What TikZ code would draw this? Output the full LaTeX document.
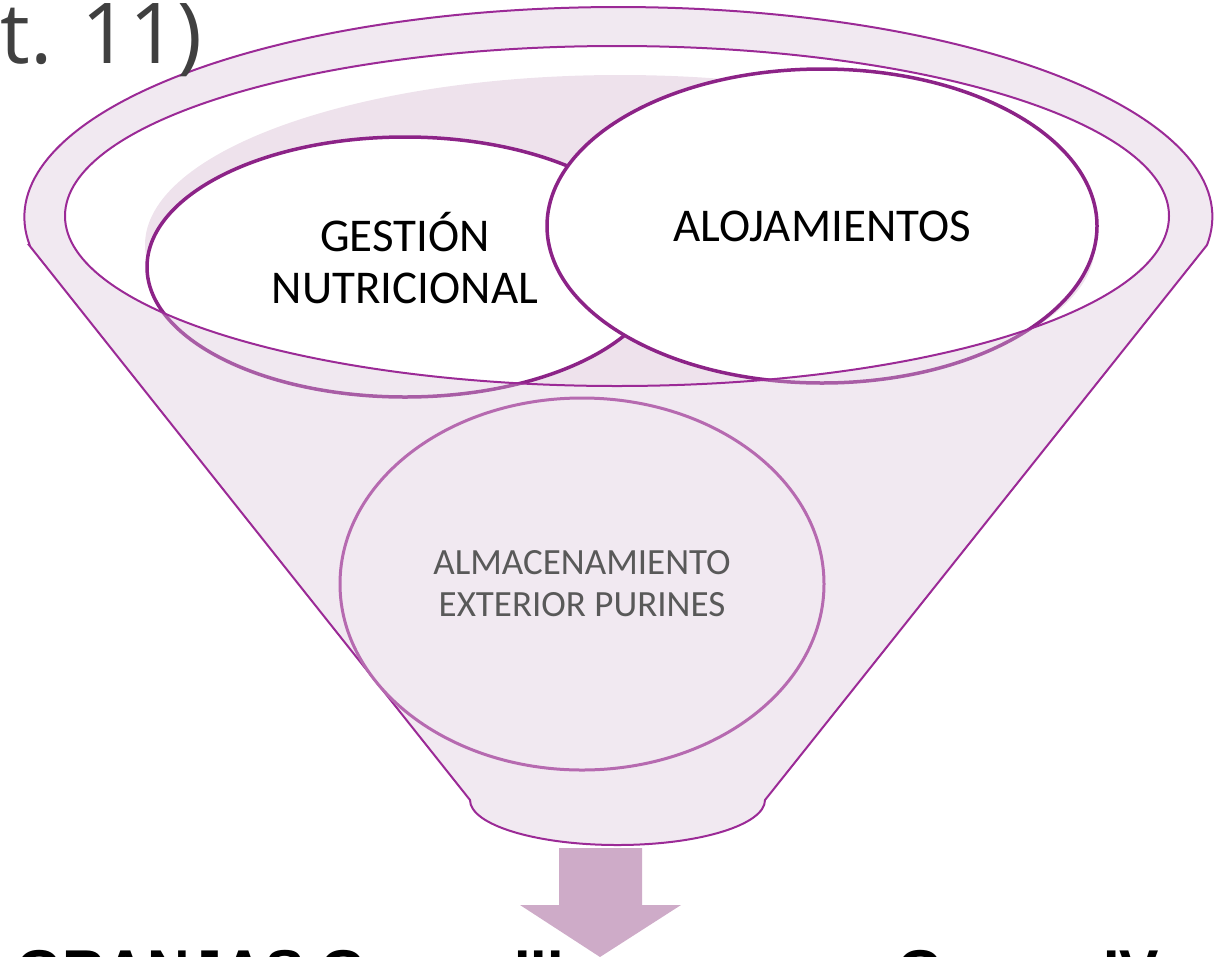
\documentclass[tikz,border=0pt]{standalone}
\usepackage{fontspec}
\setmainfont{Carlito}
\newfontfamily\headfont{Liberation Sans}
\newfontfamily\artfont{Open Sans}
\usetikzlibrary{shapes.geometric, positioning}
\definecolor{rimline}{RGB}{155,42,150}
\definecolor{stageline}{RGB}{140,35,135}
\definecolor{ringfill}{RGB}{217,195,217}
\definecolor{backshade}{RGB}{238,226,236}
\definecolor{lowfill}{RGB}{241,233,241}
\definecolor{lowline}{RGB}{182,106,176}
\definecolor{lowtext}{RGB}{89,89,89}
\definecolor{titlegray}{RGB}{64,64,64}
\definecolor{arrowfill}{RGB}{206,171,200}

\begin{document}
\begin{tikzpicture}[x=1pt, y=-1pt,
  topstage/.style={ellipse, draw=stageline, line width=3.5pt, fill=white,
    align=center, font=\fontsize{47}{52}\selectfont},
  lowstage/.style={ellipse, draw=lowline, line width=3pt, fill=lowfill,
    text=lowtext, align=center, font=\fontsize{37}{42}\selectfont},
  funnel/.style={draw=rimline, line width=2pt}]

   \useasboundingbox (0,0) rectangle (1225,956);

   % back of the funnel
   \begin{scope}
      \clip (617,216) ellipse [x radius=552, y radius=170];
      \fill[backshade] (620,245) ellipse [x radius=475, y radius=170];
   \end{scope}

   \node[topstage, minimum width=516pt, minimum height=260pt, text depth=19pt] (nutri) at (405,267) {GESTIÓN\\NUTRICIONAL};
   \node[topstage, minimum width=550pt, minimum height=314pt] (aloj) at (822,226) {ALOJAMIENTOS};

   % front of the funnel
   \fill[ringfill, fill opacity=0.37, even odd rule]
      (29,245) -- (470,800) arc[start angle=180, end angle=0, x radius=147.5, y radius=45]
      -- (1207,245) arc[start angle=7.66, end angle=-187.66, x radius=594, y radius=210] -- cycle
      (617,216) ellipse [x radius=552, y radius=170];
   \draw[funnel]
      (29,245) -- (470,800) arc[start angle=180, end angle=0, x radius=147.5, y radius=45]
      -- (1207,245) arc[start angle=7.66, end angle=-187.66, x radius=594, y radius=210] -- cycle;
   \draw[funnel] (617,216) ellipse [x radius=552, y radius=170];

   \node[lowstage, minimum width=484pt, minimum height=372pt] (store) at (582,584) {ALMACENAMIENTO\\EXTERIOR PURINES};

   % output arrow
   \coordinate (shaftl) at (559,848);
   \coordinate (shaftr) at (642,848);
   \fill[arrowfill] (shaftl) -- (shaftr) -- (642,905) -- (681,905) -- (600,957) -- (520,905) -- (559,905) -- cycle;

   \node[anchor=base west, inner sep=0pt, text=titlegray] (art) at (-87,63) {\artfont\fontsize{84}{90}\selectfont Art. 11)};
   \node[anchor=base west, inner sep=0pt] (farms) at (16,991) {\headfont\bfseries\fontsize{59}{66}\selectfont GRANJAS Grupo III};
   \node[anchor=base west, inner sep=0pt] (farmsiv) at (897,991) {\headfont\bfseries\fontsize{59}{66}\selectfont Grupo\hspace{13pt} IV};
\end{tikzpicture}
\end{document}
